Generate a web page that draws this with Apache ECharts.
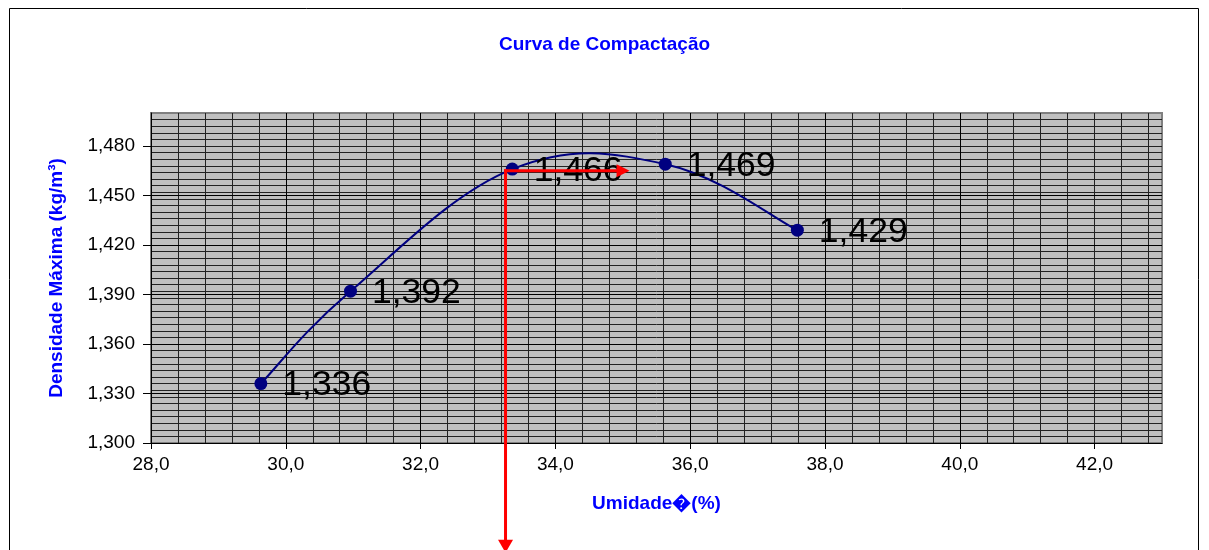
<!DOCTYPE html>
<html><head><meta charset="utf-8">
<script src="https://cdn.jsdelivr.net/npm/echarts@6/dist/echarts.min.js"></script>
<style>html,body{margin:0;padding:0;background:#fff}#c{width:1209px;height:550px}</style>
</head><body><div id="c"></div>
<script>
// ---- data ----
const umidade   = [29.63, 30.96, 33.36, 35.63, 37.59];
const densidade = [1.336, 1.392, 1.466, 1.469, 1.429];
const xTicks = [28, 30, 32, 34, 36, 38, 40, 42];
const yTicks = [1.300, 1.330, 1.360, 1.390, 1.420, 1.450, 1.480];
// annotation arrows (data space)
const arrowDown  = [[33.26, 1.465], [33.26, 1.2335]];
const arrowRight = [[33.26, 1.465], [35.10, 1.465]];

const FONT = "'Liberation Sans', Arial, sans-serif";
const chart = echarts.init(document.getElementById('c'), null, {renderer: 'canvas'});
const fmt = (v, d) => Number(v).toFixed(d).replace('.', ',');
const points = umidade.map((x, i) => [x, densidade[i]]);

// Excel-style smoothed curve: cubic Bezier through the points (pixel space via api.coord)
const TENSION = 0.19;
function renderCurve(params, api) {
  if (params.dataIndex !== 0) return null;
  const p = points.map(d => api.coord(d));
  const n = p.length, kids = [];
  for (let i = 0; i < n - 1; i++) {
    const a = p[Math.max(i - 1, 0)], b = p[i], c = p[i + 1], d = p[Math.min(i + 2, n - 1)];
    kids.push({
      type: 'bezierCurve',
      shape: {
        x1: b[0], y1: b[1], x2: c[0], y2: c[1],
        cpx1: b[0] + (c[0] - a[0]) * TENSION, cpy1: b[1] + (c[1] - a[1]) * TENSION,
        cpx2: c[0] - (d[0] - b[0]) * TENSION, cpy2: c[1] - (d[1] - b[1]) * TENSION
      },
      style: {stroke: '#000080', lineWidth: 2, fill: null}
    });
  }
  return {type: 'group', children: kids};
}

const option = {
  animation: false,
  backgroundColor: '#fff',
  title: {
    text: 'Curva de Compactação', left: 'center', top: 35, padding: 0,
    textStyle: {fontFamily: FONT, fontSize: 19, fontWeight: 'bold', color: '#0000FF'}
  },
  grid: {
    left: 151, right: 47, top: 113, bottom: 107, show: true, z: 0,
    backgroundColor: '#C0C0C0', borderColor: '#808080', borderWidth: 2
  },
  xAxis: [{
    type: 'value', min: 28, max: 43, interval: 2, z: 2,
    name: 'Umidade\uFFFD(%)', nameLocation: 'middle', nameGap: 51,
    nameTextStyle: {fontFamily: FONT, fontSize: 19, fontWeight: 'bold', color: '#0000FF'},
    axisLine: {show: true, onZero: false, lineStyle: {color: '#000', width: 1}},
    axisTick: {show: true, inside: false, length: 6, lineStyle: {color: '#000'}, customValues: xTicks},
    axisLabel: {show: true, margin: 12, fontFamily: FONT, fontSize: 19, color: '#000',
      customValues: xTicks, formatter: v => fmt(v, 1)},
    splitLine: {show: true, showMaxLine: false, lineStyle: {color: '#000', width: 1}}
  }, {
    type: 'value', min: 28, max: 43, interval: 0.4, z: 1,
    axisLine: {show: false}, axisTick: {show: false}, axisLabel: {show: false},
    splitLine: {show: true, showMinLine: false, showMaxLine: false, lineStyle: {color: '#222', width: 1}}
  }],
  yAxis: [{
    type: 'value', min: 1.3, max: 1.5, z: 2,
    name: 'Densidade Máxima (kg/m³)', nameLocation: 'middle', nameGap: 85, nameRotate: 90,
    nameTextStyle: {fontFamily: FONT, fontSize: 19, fontWeight: 'bold', color: '#0000FF'},
    axisLine: {show: true, onZero: false, lineStyle: {color: '#000', width: 1}},
    axisTick: {show: true, inside: false, length: 8, lineStyle: {color: '#000'}, customValues: yTicks},
    axisLabel: {show: true, margin: 16, fontFamily: FONT, fontSize: 19, color: '#000',
      customValues: yTicks, formatter: v => fmt(v, 3)},
    splitLine: {show: true, showMaxLine: false, lineStyle: {color: '#000', width: 1}}
  }, {
    type: 'value', min: 1.3, max: 1.5, interval: 0.004, z: 1, position: 'left',
    axisLine: {show: false}, axisTick: {show: false}, axisLabel: {show: false},
    splitLine: {show: true, showMinLine: false, showMaxLine: false, lineStyle: {color: '#222', width: 1}}
  }],
  series: [{
    type: 'custom', xAxisIndex: 0, yAxisIndex: 0, z: 3,
    renderItem: renderCurve,
    data: [points[0]],
    silent: true
  }, {
    type: 'line', xAxisIndex: 0, yAxisIndex: 0, z: 4,
    data: points,
    symbol: 'circle', symbolSize: 13,
    itemStyle: {color: '#000080'},
    lineStyle: {opacity: 0},
    label: {show: true, position: 'right', distance: 15, offset: [0, 2], fontFamily: FONT, fontSize: 35.5, color: '#000',
      formatter: p => fmt(p.value[1], 3)}
  }]
};
chart.setOption(option);

function px(p) { return chart.convertToPixel({xAxisIndex: 0, yAxisIndex: 0}, p); }
const c0 = px(arrowDown[0]), d1 = px(arrowDown[1]);
const r1 = px(arrowRight[1]);
const HL = 13, HW = 6.5;
const red = '#FF0000';
chart.setOption({
  graphic: [
    {type: 'rect', z: 100, silent: true, shape: {x: 9.5, y: 8.5, width: 1189, height: 600},
      style: {fill: 'none', stroke: '#000', lineWidth: 1}},
    {type: 'line', z: 100, shape: {x1: c0[0], y1: c0[1] - 1.5, x2: d1[0], y2: d1[1] - HL + 1},
      style: {stroke: red, lineWidth: 3}},
    {type: 'polygon', z: 100, shape: {points: [[d1[0], d1[1]], [d1[0] - HW - 1, d1[1] - HL], [d1[0] + HW + 1, d1[1] - HL]]},
      style: {fill: red}},
    {type: 'line', z: 100, shape: {x1: c0[0] - 1.5, y1: c0[1], x2: r1[0] - HL + 1, y2: r1[1]},
      style: {stroke: red, lineWidth: 3}},
    {type: 'polygon', z: 100, shape: {points: [[r1[0], r1[1]], [r1[0] - HL, r1[1] - HW], [r1[0] - HL, r1[1] + HW]]},
      style: {fill: red}}
  ]
});
</script></body></html>
